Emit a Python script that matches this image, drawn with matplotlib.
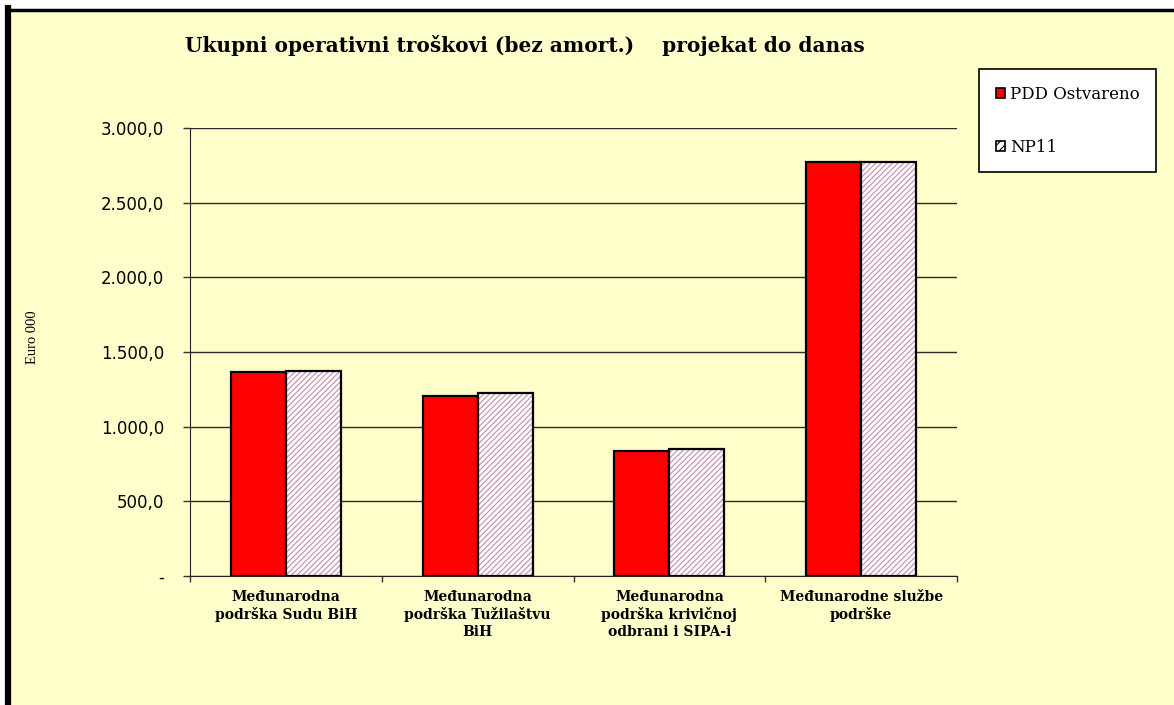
import matplotlib
matplotlib.use("Agg")
import matplotlib.pyplot as plt
import numpy as np
from matplotlib.patches import Rectangle, Patch
from matplotlib.lines import Line2D
from matplotlib.ticker import FixedLocator

categories = ["Međunarodna\npodrška Sudu BiH",
              "Međunarodna\npodrška Tužilaštvu\nBiH",
              "Međunarodna\npodrška krivičnoj\nodbrani i SIPA-i",
              "Međunarodne službe\npodrške"]
pdd_ostvareno = [1368, 1207, 837, 2770]
np11 = [1375, 1225, 848, 2772]
series_names = ["PDD Ostvareno", "NP11"]
yticks = [0, 500, 1000, 1500, 2000, 2500, 3000]
ytick_labels = ["-", "500,0", "1.000,0", "1.500,0", "2.000,0", "2.500,0", "3.000,0"]
title = "Ukupni operativni troškovi (bez amort.)    projekat do danas"
ylabel = "Euro 000"

W, H = 1174, 705
BG = "#FFFFCC"
fig = plt.figure(figsize=(W / 100, H / 100), dpi=100, facecolor="white")

# chart area background and border
bgrect = Rectangle((8 / W, -0.05), 1.2, (H - 9.5) / H + 0.05,
                   transform=fig.transFigure, facecolor=BG,
                   edgecolor="black", linewidth=2.5, zorder=-10)
fig.add_artist(bgrect)
fig.add_artist(Line2D([7.5 / W, 7.5 / W], [0, (H - 8) / H], transform=fig.transFigure,
                      color="black", linewidth=4.5, zorder=-9))

ax = fig.add_axes([190 / W, (H - 576) / H, (957 - 190) / W, (576 - 128) / H])
ax.set_zorder(5)
ax.set_facecolor(BG)
ax.set_xlim(0, 4)
ax.set_ylim(0, 3000)

x = np.arange(len(categories)) + 0.5
w = 0.287
ax.bar(x - w / 2, pdd_ostvareno, width=w, color="#FF0000", edgecolor="black",
       linewidth=1.6, zorder=3)
# hatched NP11 bars: hatch layer then black outline layer
plt.rcParams["hatch.linewidth"] = 0.8
ax.bar(x + w / 2, np11, width=w, color="white", edgecolor="#C48AAE",
       hatch="//////", linewidth=0, zorder=3)
ax.bar(x + w / 2, np11, width=w, color="none", edgecolor="black",
       linewidth=1.6, zorder=4)

ax.yaxis.set_major_locator(FixedLocator(yticks))
ax.set_yticklabels(ytick_labels, fontfamily="DejaVu Sans", fontsize=12)
ax.grid(axis="y", color="#2a2a2a", linewidth=1.0, zorder=1)
ax.set_axisbelow(True)
ax.tick_params(axis="y", direction="out", length=5, width=1, pad=13.5, color="#333333")

ax.set_xticks([0, 1, 2, 3, 4])
ax.set_xticklabels([])
ax.set_xticks(x, minor=True)
ax.set_xticklabels(categories, minor=True, fontfamily="DejaVu Serif",
                   fontweight="bold", fontsize=10, linespacing=1.25)
ax.tick_params(axis="x", which="major", direction="out", length=4, width=1, color="#333333")
ax.tick_params(axis="x", which="minor", length=0, pad=10)

for s in ["top", "right"]:
    ax.spines[s].set_visible(False)
ax.spines["left"].set_color("#222222")
ax.spines["bottom"].set_color("#222222")

fig.text(525 / W, 1 - 45 / H, title, ha="center", va="center",
         fontfamily="DejaVu Serif", fontweight="bold", fontsize=14.5)
fig.text(33 / W, 1 - 337 / H, ylabel, ha="center", va="center", rotation=90,
         fontfamily="Liberation Serif", fontsize=10.5)

handles = [Patch(facecolor="#FF0000", edgecolor="black", linewidth=1.2),
           Patch(facecolor="white", edgecolor="black", linewidth=1.2, hatch="////")]
leg = fig.legend(handles, series_names, loc="upper left",
                 bbox_to_anchor=(979 / W, 1 - 69 / H), borderaxespad=0,
                 frameon=True, fancybox=False, framealpha=1,
                 shadow=False, borderpad=1.0, labelspacing=2.15, handlelength=0.55,
                 handleheight=0.55, handletextpad=0.3,
                 prop={"family": "DejaVu Serif", "size": 12})
leg.get_frame().set_edgecolor("black")
leg.get_frame().set_linewidth(1.2)
leg.get_frame().set_facecolor("white")
leg.set_zorder(10)

fig.savefig("out.png", dpi=100, facecolor=fig.get_facecolor())
